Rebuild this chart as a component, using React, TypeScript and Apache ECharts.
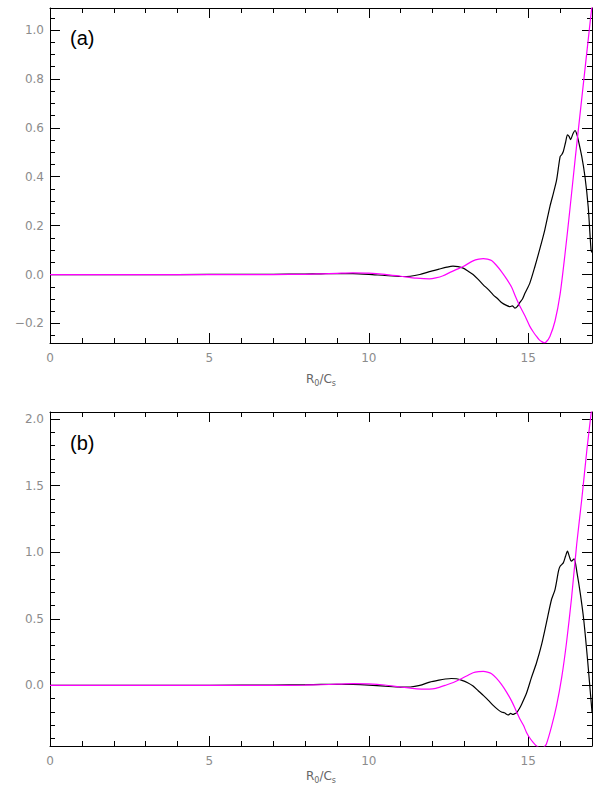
import React, { useEffect, useRef } from "react";
import * as echarts from "echarts";

// ---------- data ----------
const xMajorTicks = [0, 5, 10, 15];
const xMinorTicks = [1, 2, 3, 4, 6, 7, 8, 9, 11, 12, 13, 14, 16];
const yMajorTicksA = [-0.2, 0.0, 0.2, 0.4, 0.6, 0.8, 1.0];
const yMajorTicksB = [0.0, 0.5, 1.0, 1.5, 2.0];

const blackAX = [0, 2, 4, 6, 7, 8, 8.5, 9, 9.5, 10, 10.5, 11, 11.3, 11.6, 11.9, 12.2, 12.45, 12.64, 12.8, 12.96, 13.1, 13.27, 13.43, 13.59, 13.75, 13.9, 14.05, 14.16, 14.3, 14.43, 14.5, 14.58, 14.66, 14.74, 14.82, 14.9, 15.05, 15.21, 15.37, 15.52, 15.68, 15.79, 15.89, 16.0, 16.05, 16.1, 16.17, 16.23, 16.28, 16.33, 16.4, 16.47, 16.52, 16.57, 16.68, 16.78, 16.88, 16.97, 17.0];
const blackAY = [0, 0, 0, 0.001, 0.001, 0.002, 0.003, 0.004, 0.004, 0.001, -0.004, -0.008, -0.007, 0.0, 0.012, 0.022, 0.03, 0.034, 0.032, 0.026, 0.015, 0.0, -0.02, -0.042, -0.062, -0.083, -0.1, -0.114, -0.125, -0.131, -0.128, -0.137, -0.13, -0.114, -0.1, -0.076, -0.035, 0.033, 0.108, 0.183, 0.278, 0.333, 0.387, 0.482, 0.49, 0.503, 0.54, 0.571, 0.565, 0.552, 0.575, 0.589, 0.575, 0.55, 0.482, 0.4, 0.278, 0.101, 0.09];

const pinkAX = [0, 2, 4, 6, 7, 8, 8.5, 9, 9.5, 10, 10.5, 11, 11.5, 11.9, 12.1, 12.33, 12.6, 12.96, 13.27, 13.45, 13.59, 13.72, 13.85, 14.0, 14.16, 14.32, 14.48, 14.6, 14.72, 14.9, 15.05, 15.16, 15.26, 15.34, 15.42, 15.5, 15.56, 15.68, 15.84, 16.0, 16.15, 16.31, 16.47, 16.62, 16.78, 16.94, 17.0];
const pinkAY = [0, 0, 0, 0, 0, 0.001, 0.003, 0.005, 0.007, 0.006, 0.001, -0.007, -0.015, -0.018, -0.014, -0.005, 0.012, 0.033, 0.056, 0.063, 0.065, 0.063, 0.057, 0.038, 0.012, -0.018, -0.052, -0.09, -0.125, -0.17, -0.212, -0.235, -0.253, -0.266, -0.274, -0.279, -0.276, -0.253, -0.19, -0.08, 0.08, 0.27, 0.47, 0.65, 0.84, 1.03, 1.1];

const blackBX = [0, 2, 4, 6, 7, 8, 8.5, 9, 9.5, 10, 10.5, 11, 11.3, 11.6, 11.91, 12.2, 12.4, 12.59, 12.75, 12.9, 13.1, 13.27, 13.43, 13.59, 13.75, 13.9, 14.05, 14.16, 14.25, 14.37, 14.45, 14.52, 14.58, 14.64, 14.72, 14.79, 14.95, 15.1, 15.26, 15.42, 15.57, 15.73, 15.84, 15.95, 16.0, 16.1, 16.17, 16.23, 16.3, 16.35, 16.44, 16.53, 16.63, 16.74, 16.86, 16.94, 17.0];
const blackBY = [0, 0, 0, 0.002, 0.003, 0.005, 0.007, 0.008, 0.007, 0.002, -0.006, -0.013, -0.012, 0.0, 0.025, 0.04, 0.048, 0.052, 0.05, 0.04, 0.02, -0.005, -0.04, -0.075, -0.112, -0.15, -0.182, -0.2, -0.205, -0.222, -0.21, -0.218, -0.212, -0.205, -0.175, -0.143, -0.055, 0.058, 0.17, 0.308, 0.47, 0.645, 0.72, 0.86, 0.895, 0.92, 0.97, 1.008, 0.96, 0.933, 0.95, 0.845, 0.695, 0.495, 0.195, -0.03, -0.2];

const pinkBX = [0, 2, 4, 6, 7, 8, 8.5, 9, 9.5, 10, 10.5, 11, 11.5, 11.9, 12.1, 12.43, 12.65, 12.9, 13.1, 13.27, 13.45, 13.59, 13.72, 13.85, 14.0, 14.16, 14.32, 14.48, 14.6, 14.72, 14.85, 14.95, 15.05, 15.16, 15.26, 15.34, 15.42, 15.5, 15.57, 15.73, 15.89, 16.05, 16.2, 16.36, 16.52, 16.68, 16.84, 17.0];
const pinkBY = [0, 0, 0, 0, 0, 0.002, 0.005, 0.009, 0.013, 0.011, 0.003, -0.012, -0.026, -0.028, -0.022, 0.003, 0.022, 0.05, 0.075, 0.095, 0.103, 0.105, 0.1, 0.088, 0.055, 0.008, -0.05, -0.118, -0.18, -0.243, -0.3, -0.355, -0.395, -0.43, -0.455, -0.466, -0.47, -0.462, -0.44, -0.31, -0.15, 0.06, 0.32, 0.66, 1.06, 1.4, 1.77, 2.1];

// ---------- style ----------
const LABEL_COLOR = "#8c8c8c";
const LABEL_FONT = "DejaVu Sans";

function pairs(xs: number[], ys: number[]) {
  return xs.map((x, i) => [x, ys[i]]);
}

function minorValues(min: number, max: number, step: number, majors: number[]) {
  const out: number[] = [];
  const start = Math.ceil(min / step - 1e-9);
  const end = Math.floor(max / step + 1e-9);
  for (let k = start; k <= end; k++) {
    const v = Math.round(k * step * 1000) / 1000;
    if (!majors.some((m) => Math.abs(m - v) < 1e-9)) out.push(v);
  }
  return out;
}

function fmtY(v: number) {
  const s = Math.abs(v) < 1e-9 ? "0.0" : v.toFixed(1);
  return s.replace("-", "\u2212");
}

function buildPanel(g: number, yMin: number, yMax: number, yMajor: number[], yMinorStep: number, nameGap: number) {
  const yMinor = minorValues(yMin, yMax, yMinorStep, yMajor);
  const line = { show: true, onZero: false, lineStyle: { color: "#000", width: 1 } };
  const noLine = { show: false, onZero: false };
  const base = { gridIndex: g, type: "value", splitLine: { show: false } };
  const tick = (vals: number[], len: number) => ({
    show: true, inside: true, length: len, customValues: vals, lineStyle: { color: "#000", width: 1 },
  });
  const xAxes = [
    {
      ...base, min: 0, max: 17, position: "bottom", axisLine: line,
      axisTick: tick(xMajorTicks, 10),
      axisLabel: {
        show: true, customValues: xMajorTicks, color: LABEL_COLOR, fontSize: 12,
        fontFamily: LABEL_FONT, margin: 9, formatter: (v: number) => String(v),
      },
      name: "R{s|0}/C{s|s}", nameLocation: "middle", nameGap,
      nameTextStyle: {
        color: "#666", fontSize: 12, fontFamily: LABEL_FONT, lineHeight: 16,
        rich: { s: { fontSize: 8, lineHeight: 8, verticalAlign: "bottom", color: "#666", fontFamily: LABEL_FONT } },
      },
    },
    { ...base, min: 0, max: 17, position: "bottom", axisLine: noLine, axisTick: tick(xMinorTicks, 5), axisLabel: { show: false } },
    { ...base, min: 0, max: 17, position: "top", axisLine: line, axisTick: tick(xMajorTicks, 10), axisLabel: { show: false } },
    { ...base, min: 0, max: 17, position: "top", axisLine: noLine, axisTick: tick(xMinorTicks, 5), axisLabel: { show: false } },
  ];
  const yAxes = [
    {
      ...base, min: yMin, max: yMax, position: "left", axisLine: line,
      axisTick: tick(yMajor, 10),
      axisLabel: {
        show: true, customValues: yMajor, color: LABEL_COLOR, fontSize: 12,
        fontFamily: LABEL_FONT, margin: 6, formatter: fmtY,
      },
    },
    { ...base, min: yMin, max: yMax, position: "left", axisLine: noLine, axisTick: tick(yMinor, 5), axisLabel: { show: false } },
    { ...base, min: yMin, max: yMax, position: "right", axisLine: line, axisTick: tick(yMajor, 10), axisLabel: { show: false } },
    { ...base, min: yMin, max: yMax, position: "right", axisLine: noLine, axisTick: tick(yMinor, 5), axisLabel: { show: false } },
  ];
  return { xAxes, yAxes };
}

function lineSeries(g: number, data: number[][], color: string, z: number) {
  return {
    type: "line", xAxisIndex: g * 4, yAxisIndex: g * 4, data, showSymbol: false, symbol: "none",
    smooth: 0.25, clip: true, z,
    lineStyle: { color, width: 1.2 }, emphasis: { disabled: true },
  };
}

export default function App() {
  const ref = useRef<HTMLDivElement>(null);
  useEffect(() => {
    if (!ref.current) return;
    const chart = echarts.init(ref.current, undefined, { renderer: "svg" });
    const pA = buildPanel(0, -0.28, 1.09, yMajorTicksA, 0.05, 28);
    const pB = buildPanel(1, -0.455, 2.053, yMajorTicksB, 0.1, 22);
    chart.setOption({
      animation: false,
      backgroundColor: "#fff",
      grid: [
        { left: 50, right: 3, top: 8, height: 335 },
        { left: 50, right: 3, top: 412, height: 335 },
      ],
      xAxis: [...pA.xAxes, ...pB.xAxes],
      yAxis: [...pA.yAxes, ...pB.yAxes],
      series: [
        lineSeries(0, pairs(blackAX, blackAY), "#000000", 2),
        lineSeries(0, pairs(pinkAX, pinkAY), "#ff00ff", 3),
        lineSeries(1, pairs(blackBX, blackBY), "#000000", 2),
        lineSeries(1, pairs(pinkBX, pinkBY), "#ff00ff", 3),
      ],
      graphic: [
        { type: "text", left: 70, top: 28, style: { text: "(a)", fontSize: 20, fontFamily: "Liberation Sans", fill: "#000" } },
        { type: "text", left: 70, top: 433, style: { text: "(b)", fontSize: 20, fontFamily: "Liberation Sans", fill: "#000" } },
      ],
    });
    return () => chart.dispose();
  }, []);
  return <div ref={ref} style={{ position: "fixed", left: 0, top: 0, width: 595, height: 785 }} />;
}
